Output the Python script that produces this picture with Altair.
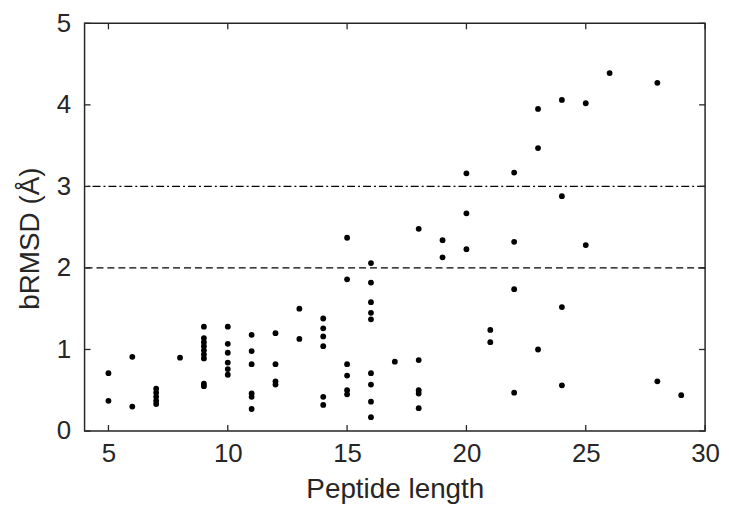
import altair as alt
import pandas as pd

# Data
peptide_length = (
    [5] * 2 + [6] * 2 + [7] * 5 + [8] * 1 + [9] * 9 + [10] * 6 + [11] * 6 +
    [12] * 4 + [13] * 2 + [14] * 6 + [15] * 6 + [16] * 9 + [17] * 1 +
    [18] * 5 + [19] * 2 + [20] * 3 + [21] * 2 + [22] * 4 + [23] * 3 +
    [24] * 4 + [25] * 2 + [26] * 1 + [28] * 2 + [29] * 1
)
brmsd = [
    0.71, 0.37,
    0.91, 0.30,
    0.52, 0.47, 0.42, 0.37, 0.33,
    0.90,
    1.28, 1.14, 1.09, 1.04, 0.99, 0.94, 0.89, 0.58, 0.55,
    1.28, 1.07, 0.96, 0.84, 0.76, 0.69,
    1.18, 0.98, 0.82, 0.46, 0.42, 0.27,
    1.20, 0.82, 0.61, 0.57,
    1.50, 1.13,
    1.38, 1.26, 1.16, 1.04, 0.42, 0.32,
    2.37, 1.86, 0.82, 0.68, 0.50, 0.45,
    2.06, 1.82, 1.58, 1.45, 1.37, 0.71, 0.57, 0.36, 0.17,
    0.85,
    2.48, 0.87, 0.50, 0.46, 0.28,
    2.34, 2.13,
    3.16, 2.67, 2.23,
    1.24, 1.09,
    3.17, 2.32, 1.74, 0.47,
    3.95, 3.47, 1.00,
    4.06, 2.88, 1.52, 0.56,
    4.02, 2.28,
    4.39,
    4.27, 0.61,
    0.44,
]
x_ticks = [5, 10, 15, 20, 25, 30]
y_ticks = [0, 1, 2, 3, 4, 5]
dashed_level = [2]
dashdot_level = [3]

W, H = 624, 410
TXT = "#262626"
FONT = "Liberation Sans"

df = pd.DataFrame({"len": peptide_length, "rmsd": brmsd})
xs = alt.Scale(domain=[4, 30], nice=False, zero=False)
ys = alt.Scale(domain=[0, 5], nice=False, zero=False)

xaxis = alt.Axis(values=x_ticks, title="Peptide length", ticks=False,
                 domain=False, grid=False, labelPadding=10, titlePadding=9,
                 labelFlush=False)
yaxis = alt.Axis(values=y_ticks, title="bRMSD (Å)", ticks=False,
                 domain=False, grid=False, labelPadding=14, titlePadding=12,
                 labelFlush=False, titleY=216)

points = alt.Chart(df).mark_circle(size=34, color="black", opacity=1).encode(
    x=alt.X("len:Q", scale=xs, axis=xaxis),
    y=alt.Y("rmsd:Q", scale=ys, axis=yaxis),
)

dashed = alt.Chart(pd.DataFrame({"v": dashed_level})).mark_rule(
    color="black", strokeWidth=1.2, strokeDash=[7, 4]
).encode(y=alt.Y("v:Q", scale=ys, axis=yaxis))

dashdot = alt.Chart(pd.DataFrame({"v": dashdot_level})).mark_rule(
    color="black", strokeWidth=1.2, strokeDash=[8, 3, 2, 3]
).encode(y=alt.Y("v:Q", scale=ys, axis=yaxis))

xt = pd.DataFrame({"t": x_ticks})
yt = pd.DataFrame({"t": y_ticks})
tick_style = dict(color=TXT, strokeWidth=1.3)

xb = alt.Chart(xt).mark_rule(**tick_style).encode(
    x=alt.X("t:Q", scale=xs, axis=xaxis), y=alt.value(H), y2=alt.value(H - 6))
xtop = alt.Chart(xt).mark_rule(**tick_style).encode(
    x=alt.X("t:Q", scale=xs, axis=xaxis), y=alt.value(0), y2=alt.value(6))
yl = alt.Chart(yt).mark_rule(**tick_style).encode(
    y=alt.Y("t:Q", scale=ys, axis=yaxis), x=alt.value(0), x2=alt.value(6))
yr = alt.Chart(yt).mark_rule(**tick_style).encode(
    y=alt.Y("t:Q", scale=ys, axis=yaxis), x=alt.value(W), x2=alt.value(W - 6))

chart = alt.layer(dashed, dashdot, xb, xtop, yl, yr, points).properties(
    width=W, height=H,
    background="white",
    autosize=alt.AutoSizeParams(type="none"),
    padding={"left": 77, "top": 14, "right": 16, "bottom": 76},
).configure_view(
    stroke=TXT, strokeWidth=1.5
).configure_axis(
    labelFont=FONT, titleFont=FONT, labelFontSize=26, titleFontSize=28,
    labelColor=TXT, titleColor=TXT, titleFontWeight="normal",
)

chart.save("out.html", embed_options={"renderer": "svg", "actions": False})
